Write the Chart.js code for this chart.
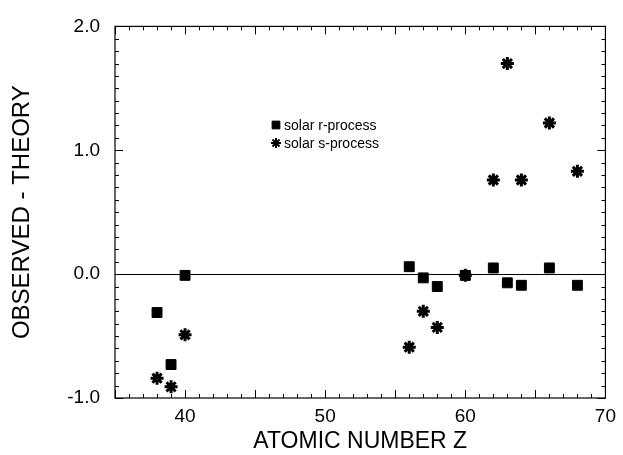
<!DOCTYPE html>
<html>
<head>
<meta charset="utf-8">
<script src="https://cdn.jsdelivr.net/npm/chart.js@4"></script>
<style>
  html, body { margin: 0; padding: 0; background: #fff; }
  #wrap { width: 623px; height: 455px; }
</style>
</head>
<body>
<div id="wrap"><canvas id="chart" width="623" height="455"></canvas></div>
<script>
// atomic numbers and observed - theory residuals
const rZ = [38, 39, 40, 56, 57, 58, 60, 62, 63, 64, 66, 68];
const rValues = [-0.31, -0.73, -0.01, 0.06, -0.03, -0.10, -0.01, 0.05, -0.07, -0.09, 0.05, -0.09];
const sZ = [38, 39, 40, 56, 57, 58, 60, 62, 63, 64, 66, 68];
const sValues = [-0.84, -0.91, -0.49, -0.59, -0.30, -0.43, -0.01, 0.76, 1.70, 0.76, 1.22, 0.83];

const xTickLabels = [40, 50, 60, 70];
const yTickLabels = [-1, 0, 1, 2];

const FONT = 'Liberation Sans, Arial, Helvetica, sans-serif';
const INK = '#000';

function toPoints(xs, ys) {
  return xs.map((x, i) => ({ x: x, y: ys[i] }));
}

// frame, inward ticks on all four sides, zero line, legend
const framePlugin = {
  id: 'frame',
  afterDraw(chart) {
    const { ctx, chartArea: a, scales: { x, y } } = chart;
    ctx.save();
    ctx.strokeStyle = INK;
    ctx.lineWidth = 1.2;
    ctx.strokeRect(a.left, a.top, a.right - a.left, a.bottom - a.top);

    ctx.lineWidth = 1;
    ctx.beginPath();
    for (let z = 35; z <= 70; z++) {
      const px = Math.round(x.getPixelForValue(z)) + 0.5;
      const len = z % 5 === 0 ? 8 : 4;
      ctx.moveTo(px, a.bottom); ctx.lineTo(px, a.bottom - len);
      ctx.moveTo(px, a.top); ctx.lineTo(px, a.top + len);
    }
    for (let k = -10; k <= 20; k++) {
      const py = Math.round(y.getPixelForValue(k / 10)) + 0.5;
      const len = k % 10 === 0 ? 8 : 4;
      ctx.moveTo(a.left, py); ctx.lineTo(a.left + len, py);
      ctx.moveTo(a.right, py); ctx.lineTo(a.right - len, py);
    }
    ctx.stroke();

    // zero line
    const y0 = Math.round(y.getPixelForValue(0)) + 0.5;
    ctx.beginPath();
    ctx.moveTo(a.left, y0);
    ctx.lineTo(a.right, y0);
    ctx.stroke();

    // legend (smaller markers than the data)
    const lx = 276, ly = 125, gap = 18;
    const legendMarks = [
      { radius: 5.5, borderWidth: 1 },
      { radius: 5, borderWidth: 2 }
    ];
    chart.data.datasets.forEach((ds, i) => {
      const cy = ly + i * gap;
      ctx.fillStyle = INK;
      ctx.strokeStyle = INK;
      ctx.lineWidth = legendMarks[i].borderWidth;
      Chart.helpers.drawPoint(ctx, {
        pointStyle: ds.pointStyle,
        radius: legendMarks[i].radius,
        rotation: 0,
        borderWidth: legendMarks[i].borderWidth
      }, lx, cy);
      ctx.font = '14px ' + FONT;
      ctx.textBaseline = 'middle';
      ctx.textAlign = 'left';
      ctx.fillText(ds.label, lx + 8, cy + 1);
    });
    ctx.restore();
  }
};

new Chart(document.getElementById('chart'), {
  type: 'scatter',
  data: {
    datasets: [
      {
        label: 'solar r-process',
        data: toPoints(rZ, rValues),
        pointStyle: 'rect',
        pointRadius: 7,
        backgroundColor: INK,
        borderColor: INK,
        borderWidth: 1,
        pointHoverRadius: 7
      },
      {
        label: 'solar s-process',
        data: toPoints(sZ, sValues),
        pointStyle: 'star',
        pointRadius: 6.5,
        backgroundColor: INK,
        borderColor: INK,
        borderWidth: 3,
        pointHoverRadius: 6.5
      }
    ]
  },
  options: {
    responsive: false,
    animation: false,
    events: [],
    layout: { padding: { top: 20, right: 13, left: 0, bottom: 0 } },
    plugins: {
      legend: { display: false },
      tooltip: { enabled: false }
    },
    scales: {
      x: {
        type: 'linear',
        min: 35,
        max: 70,
        afterBuildTicks(scale) { scale.ticks = xTickLabels.map(v => ({ value: v })); },
        afterFit(scale) { scale.height = 57; },
        grid: { display: false, drawTicks: false },
        border: { display: false },
        ticks: {
          color: INK,
          padding: 7,
          maxRotation: 0,
          autoSkip: false,
          font: { family: FONT, size: 19 },
          callback: v => String(v)
        },
        title: {
          display: true,
          text: 'ATOMIC NUMBER Z',
          color: INK,
          padding: { top: 0, bottom: 0 },
          font: { family: FONT, size: 23 }
        }
      },
      y: {
        type: 'linear',
        min: -1,
        max: 2,
        afterBuildTicks(scale) { scale.ticks = yTickLabels.map(v => ({ value: v })); },
        afterFit(scale) { scale.width = 115; },
        grid: { display: false, drawTicks: false },
        border: { display: false },
        ticks: {
          color: INK,
          padding: 15,
          autoSkip: false,
          font: { family: FONT, size: 19 },
          callback: v => Number(v).toFixed(1)
        },
        title: {
          display: true,
          text: 'OBSERVED - THEORY',
          color: INK,
          padding: { top: 8, bottom: 0 },
          font: { family: FONT, size: 24 }
        }
      }
    }
  },
  plugins: [framePlugin]
});
</script>
</body>
</html>
